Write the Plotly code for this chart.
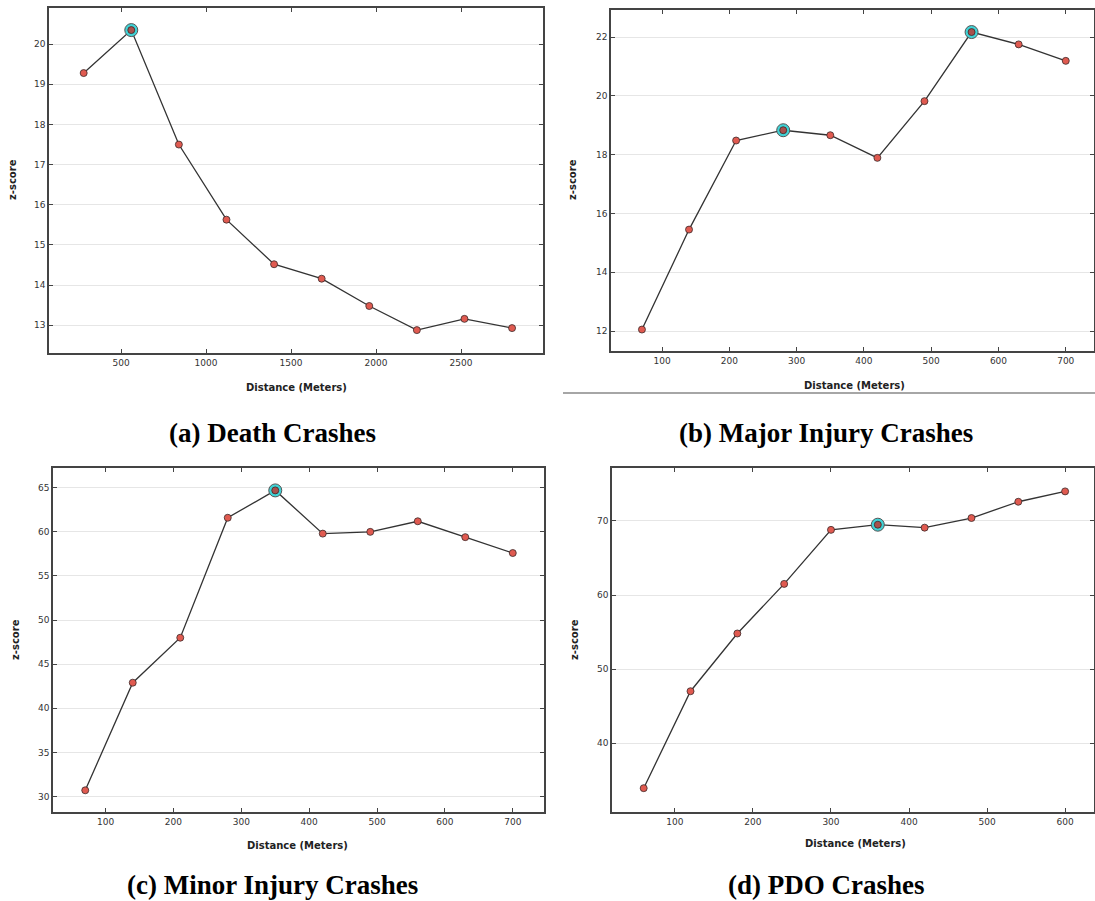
import plotly.graph_objects as go

W, H = 1095, 901

# ---------------- data ----------------
death_x = [280, 560, 840, 1120, 1400, 1680, 1960, 2240, 2520, 2800]
death_y = [19.28, 20.35, 17.50, 15.63, 14.52, 14.16, 13.48, 12.88, 13.16, 12.93]
death_hi = [1]

major_x = [70, 140, 210, 280, 350, 420, 490, 560, 630, 700]
major_y = [12.05, 15.45, 18.48, 18.83, 18.66, 17.89, 19.82, 22.17, 21.75, 21.19]
major_hi = [3, 7]

minor_x = [70, 140, 210, 280, 350, 420, 490, 560, 630, 700]
minor_y = [30.7, 42.9, 48.0, 61.6, 64.7, 59.8, 60.0, 61.2, 59.4, 57.6]
minor_hi = [4]

pdo_x = [60, 120, 180, 240, 300, 360, 420, 480, 540, 600]
pdo_y = [33.9, 47.0, 54.8, 61.5, 68.8, 69.5, 69.1, 70.4, 72.6, 74.0]
pdo_hi = [5]

captions = ["(a) Death Crashes", "(b) Major Injury Crashes",
            "(c) Minor Injury Crashes", "(d) PDO Crashes"]
x_title = "Distance (Meters)"
y_title = "z-score"

x_ticks = [[500, 1000, 1500, 2000, 2500],
           [100, 200, 300, 400, 500, 600, 700],
           [100, 200, 300, 400, 500, 600, 700],
           [100, 200, 300, 400, 500, 600]]
y_ticks = [[13, 14, 15, 16, 17, 18, 19, 20],
           [12, 14, 16, 18, 20, 22],
           [30, 35, 40, 45, 50, 55, 60, 65],
           [40, 50, 60, 70]]

# ---------------- layout geometry (pixels) ----------------
panels = [
    dict(x=death_x, y=death_y, hi=death_hi, box=(49, 543, 8, 353),
         xr=[76, 2982], yr=[12.31, 20.9], cap=(272, 433), yt=(13, 180), xt=(296, 387)),
    dict(x=major_x, y=major_y, hi=major_hi, box=(611, 1094, 10, 351),
         xr=[24, 742], yr=[11.32, 22.92], cap=(826, 433), yt=(573, 180), xt=(854, 385)),
    dict(x=minor_x, y=minor_y, hi=minor_hi, box=(53, 544, 468, 812),
         xr=[22.5, 746], yr=[28.24, 67.24], cap=(272, 885), yt=(15, 640), xt=(298, 845)),
    dict(x=pdo_x, y=pdo_y, hi=pdo_hi, box=(612, 1094, 468, 812),
         xr=[19.4, 637], yr=[30.68, 77.16], cap=(826, 885), yt=(574, 640), xt=(855, 843)),
]

def px(x):
    return x / W

def py(y):
    return 1 - y / H

fig = go.Figure()
annotations = []
layout_axes = {}

for i, p in enumerate(panels):
    n = i + 1
    xa = "x" if n == 1 else f"x{n}"
    ya = "y" if n == 1 else f"y{n}"
    l, r, t, b = p["box"]
    common = dict(showline=True, linecolor="#444", linewidth=1.5, mirror="ticks",
                  ticks="inside", ticklen=4, tickcolor="#444", tickwidth=1,
                  tickfont=dict(family="DejaVu Sans", size=9, color="#333"),
                  zeroline=False)
    layout_axes["xaxis" if n == 1 else f"xaxis{n}"] = dict(
        domain=[px(l), px(r)], range=p["xr"], anchor=ya, tickvals=x_ticks[i],
        showgrid=False, **common)
    layout_axes["yaxis" if n == 1 else f"yaxis{n}"] = dict(
        domain=[py(b), py(t)], range=p["yr"], anchor=xa, tickvals=y_ticks[i],
        showgrid=True, gridcolor="#e6e6e6", gridwidth=1, **common)

    fig.add_trace(go.Scatter(
        x=p["x"], y=p["y"], mode="lines", xaxis=xa, yaxis=ya,
        line=dict(color="#333333", width=1.3), showlegend=False, hoverinfo="skip"))
    hx = [p["x"][k] for k in p["hi"]]
    hy = [p["y"][k] for k in p["hi"]]
    fig.add_trace(go.Scatter(
        x=hx, y=hy, mode="markers", xaxis=xa, yaxis=ya,
        marker=dict(size=13, color="#3fd3d6", line=dict(color="#555", width=1)),
        showlegend=False))
    colors = ["#a8514c" if k in p["hi"] else "#e05a50" for k in range(len(p["x"]))]
    fig.add_trace(go.Scatter(
        x=p["x"], y=p["y"], mode="markers", xaxis=xa, yaxis=ya,
        marker=dict(size=7, color=colors, line=dict(color="#3a2a2a", width=0.8)),
        showlegend=False))

    annotations.append(dict(x=px(p["cap"][0]), y=py(p["cap"][1]), xref="paper", yref="paper",
                            text=f"<b>{captions[i]}</b>", showarrow=False, borderpad=0,
                            xanchor="center", yanchor="middle",
                            font=dict(family="Liberation Serif", size=27, color="#000")))
    annotations.append(dict(x=px(p["xt"][0]), y=py(p["xt"][1]), xref="paper", yref="paper",
                            text=f"<b>{x_title}</b>", showarrow=False,
                            xanchor="center", yanchor="middle",
                            font=dict(family="DejaVu Sans", size=10, color="#222")))
    annotations.append(dict(x=px(p["yt"][0]), y=py(p["yt"][1]), xref="paper", yref="paper",
                            text=f"<b>{y_title}</b>", showarrow=False, textangle=-90,
                            xanchor="center", yanchor="middle",
                            font=dict(family="DejaVu Sans", size=10, color="#222")))

fig.update_layout(
    width=W, height=H, margin=dict(l=0, r=0, t=0, b=0),
    paper_bgcolor="white", plot_bgcolor="white",
    annotations=annotations,
    shapes=[dict(type="line", xref="paper", yref="paper",
                 x0=px(563), x1=px(1095), y0=py(393), y1=py(393),
                 line=dict(color="#888", width=1.5))],
    **layout_axes,
)

fig.write_html("out.html")
